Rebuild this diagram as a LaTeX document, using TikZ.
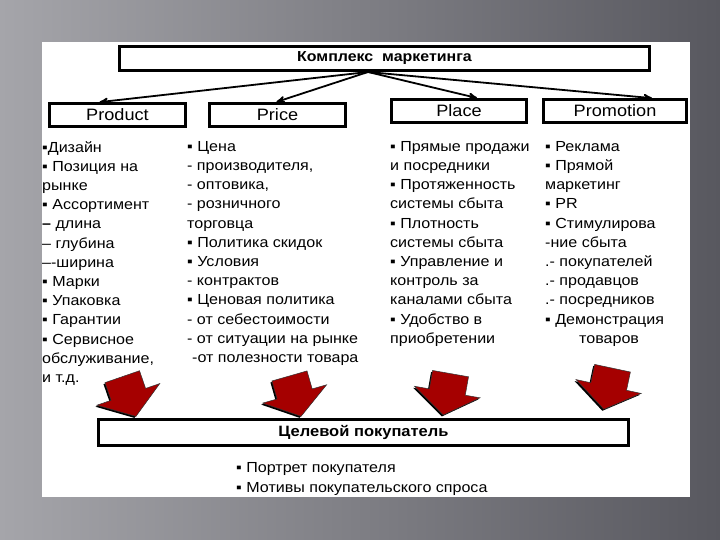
\documentclass[tikz,border=0pt]{standalone}
\usepackage{fontspec}
\setmainfont{Liberation Sans}[FakeStretch=1.1]
\usetikzlibrary{
        arrows,
        positioning,
        shadows,
        shapes.arrows
    }
\definecolor{bgleft}{RGB}{165,165,170}
\definecolor{bgright}{RGB}{88,88,95}
\definecolor{arrowred}{RGB}{165,0,0}
\tikzset{>=stealth',shorten >=1pt,auto}
\tikzset{mix box/.style={draw,line width=2.5pt,inner sep=0pt,minimum height=23pt,font=\fontsize{16.5}{18}\selectfont}}
\tikzset{list text/.style={anchor=north west,inner sep=0pt,align=left,font=\fontsize{14.6}{19.2}\selectfont}}
\tikzset{red arrow/.style={single arrow,fill=arrowred,draw=black!80,line width=.5pt,
        minimum height=42pt,inner xsep=0pt,inner ysep=18pt,single arrow head extend=15pt,
        single arrow tip angle=110,
        drop shadow={shadow xshift=-1.5pt,shadow yshift=-1.5pt,opacity=1,fill=black}}}

\begin{document}
\spaceskip=6.3pt plus 1pt minus 1pt
\begin{tikzpicture}[x=1pt,y=-1pt]
                \useasboundingbox (0,0) rectangle (720,540);
                \shade[left color=bgleft,right color=bgright] (0,0) rectangle (720,540);
                \fill[white] (42,42) rectangle (690,497);
                \node[mix box,minimum width=530pt,minimum height=24pt,font=\bfseries\fontsize{14.5}{16}\selectfont] (mix) at (384.5,58.5) {Комплекс\ \ маркетинга};
                \node[mix box,minimum width=136pt] (prod)  at (117.5,115) {Product};
                \node[mix box,minimum width=136pt] (price) at (277.5,115) {Price};
                \node[mix box,minimum width=135pt] (place) at (459,111)   {Place};
                \node[mix box,minimum width=143pt] (promo) at (615,111)   {Promotion};
                \coordinate (hub) at (368,72);
                \path[->,line width=1.8pt]
                    (hub) edge ([xshift=-19pt]prod.north)
                    (hub) edge ([xshift=-2pt]price.north)
                    (hub) edge ([xshift=19pt]place.north)
                    (hub) edge ([xshift=38pt]promo.north)
                    ;
                \node[list text] (prodlist) at (42,141) {▪Дизайн\\▪ Позиция на\\рынке\\▪ Ассортимент\\{\bfseries –} длина\\– глубина\\–-ширина\\▪ Марки\\▪ Упаковка\\▪ Гарантии\\▪ Сервисное\\обслуживание,\\и т.д.};
                \node[list text] (pricelist) at (187,141) {▪ Цена\\- производителя,\\- оптовика,\\- розничного\\торговца\\▪ Политика скидок\\▪ Условия\\- контрактов\\▪ Ценовая политика\\- от себестоимости\\- от ситуации на рынке\\\hspace{5pt}-от полезности товара};
                \node[list text] (placelist) at (390,141) {▪ Прямые продажи\\и посредники\\▪ Протяженность\\системы сбыта\\▪ Плотность\\системы сбыта\\▪ Управление и\\контроль за\\каналами сбыта\\▪ Удобство в\\приобретении};
                \node[list text] (promolist) at (545,141) {▪ Реклама\\▪ Прямой\\маркетинг\\▪ PR\\▪ Стимулирова\\-ние сбыта\\.- покупателей\\.- продавцов\\.- посредников\\▪ Демонстрация\\\hspace{34pt}товаров};
                \node[red arrow,rotate=289] (arr1) at (127,390.5) {};
                \node[red arrow,rotate=286] (arr2) at (293.5,390) {};
                \node[red arrow,rotate=260] (arr3) at (448,388) {};
                \node[red arrow,rotate=258] (arr4) at (609.5,382.5) {};
                \node[mix box,minimum width=530pt,minimum height=26pt,font=\bfseries\fontsize{15}{18}\selectfont] (buyer) at (363.5,432.5) {Целевой покупатель};
                \node[list text,font=\fontsize{14.6}{20}\selectfont] (buyerlist) at (236,462) {▪ Портрет покупателя\\▪ Мотивы покупательского спроса};
            \end{tikzpicture}
\end{document}
